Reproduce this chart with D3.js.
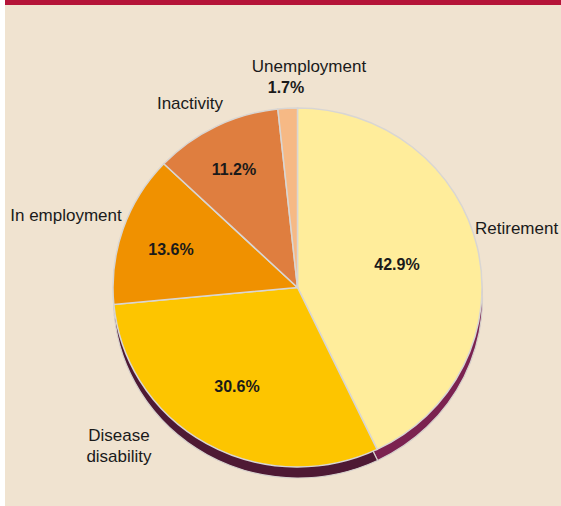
<!DOCTYPE html>
<html lang="en">
<head>
<meta charset="UTF-8">
<title>Pie chart</title>
<script src="https://d3js.org/d3.v7.min.js"></script>
<style>
    body { margin: 0; background: #fff; }
    text { font-family: "Liberation Sans", Arial, sans-serif; fill: #1a1a1a; }
    .name { font-size: 17px; }
    .pct { font-size: 16px; font-weight: bold; }
</style>
</head>
<body>
<div id="chart"></div>
<script>
    // data
    const categories = ["Retirement", "Disease disability", "In employment", "Inactivity", "Unemployment"];
    const shares = [42.9, 30.6, 13.6, 11.2, 1.7];
    const topColors = ["#ffed9b", "#fdc500", "#f09100", "#df7e3f", "#f6b985"];
    const sideColors = ["#7b2250", "#4e1934", "#6a3208", "#5e2c12", "#6e4020"];

    // layout of the text (x, baseline y)
    const nameLabels = [
        { lines: ["Retirement"], x: 475, y: 234, anchor: "start" },
        { lines: ["Disease", "disability"], x: 119, y: 441, anchor: "middle" },
        { lines: ["In employment"], x: 66, y: 221, anchor: "middle" },
        { lines: ["Inactivity"], x: 190, y: 109, anchor: "middle" },
        { lines: ["Unemployment"], x: 309, y: 72, anchor: "middle" }
    ];
    const pctLabels = [
        { x: 397, y: 270 },
        { x: 237, y: 392 },
        { x: 171, y: 255 },
        { x: 234, y: 175 },
        { x: 286, y: 93 }
    ];

    const W = 561, H = 506;
    const cx = 297.5, cy = 287.5, r = 182;
    const sx = 184.5 / r, sy = 179.5 / r;
    const depth = 11;

    const svg = d3.select("#chart").append("svg")
        .attr("width", W)
        .attr("height", H);

    svg.append("rect").attr("x", 5).attr("y", 0).attr("width", W - 5).attr("height", H).attr("fill", "#f0e3d0");
    svg.append("rect").attr("x", 5).attr("y", 0).attr("width", W - 5).attr("height", 5).attr("fill", "#b51438");

    const pie = d3.pie().sort(null).value(d => d)(shares);
    const arc = d3.arc().innerRadius(0).outerRadius(r);

    // side of the 3d pie: same pie, pushed down, dark colours
    const sideG = svg.append("g")
        .attr("transform", `translate(${cx + 0.5},${cy + depth}) scale(${sx},${sy})`);
    sideG.selectAll("path")
        .data(pie)
        .enter()
        .append("path")
        .attr("d", arc)
        .attr("fill", (d, i) => sideColors[i])
        .attr("stroke", "#d6d0cc")
        .attr("stroke-width", 1.2)
        .attr("vector-effect", "non-scaling-stroke");

    const faceG = svg.append("g")
        .attr("transform", `translate(${cx},${cy}) scale(${sx},${sy})`);
    faceG.selectAll("path")
        .data(pie)
        .enter()
        .append("path")
        .attr("d", arc)
        .attr("fill", (d, i) => topColors[i])
        .attr("stroke", "#d9d6d3")
        .attr("stroke-width", 1.5)
        .attr("vector-effect", "non-scaling-stroke");

    svg.selectAll("text.pct")
        .data(pctLabels)
        .enter()
        .append("text")
        .attr("class", "pct")
        .attr("x", d => d.x)
        .attr("y", d => d.y)
        .attr("text-anchor", "middle")
        .text((d, i) => shares[i].toFixed(1) + "%");

    nameLabels.forEach(l => {
        const t = svg.append("text")
            .attr("class", "name")
            .attr("x", l.x)
            .attr("y", l.y)
            .attr("text-anchor", l.anchor);
        l.lines.forEach((s, k) => {
            t.append("tspan").attr("x", l.x).attr("dy", k ? 21 : 0).text(s);
        });
    });
</script>
</body>
</html>
